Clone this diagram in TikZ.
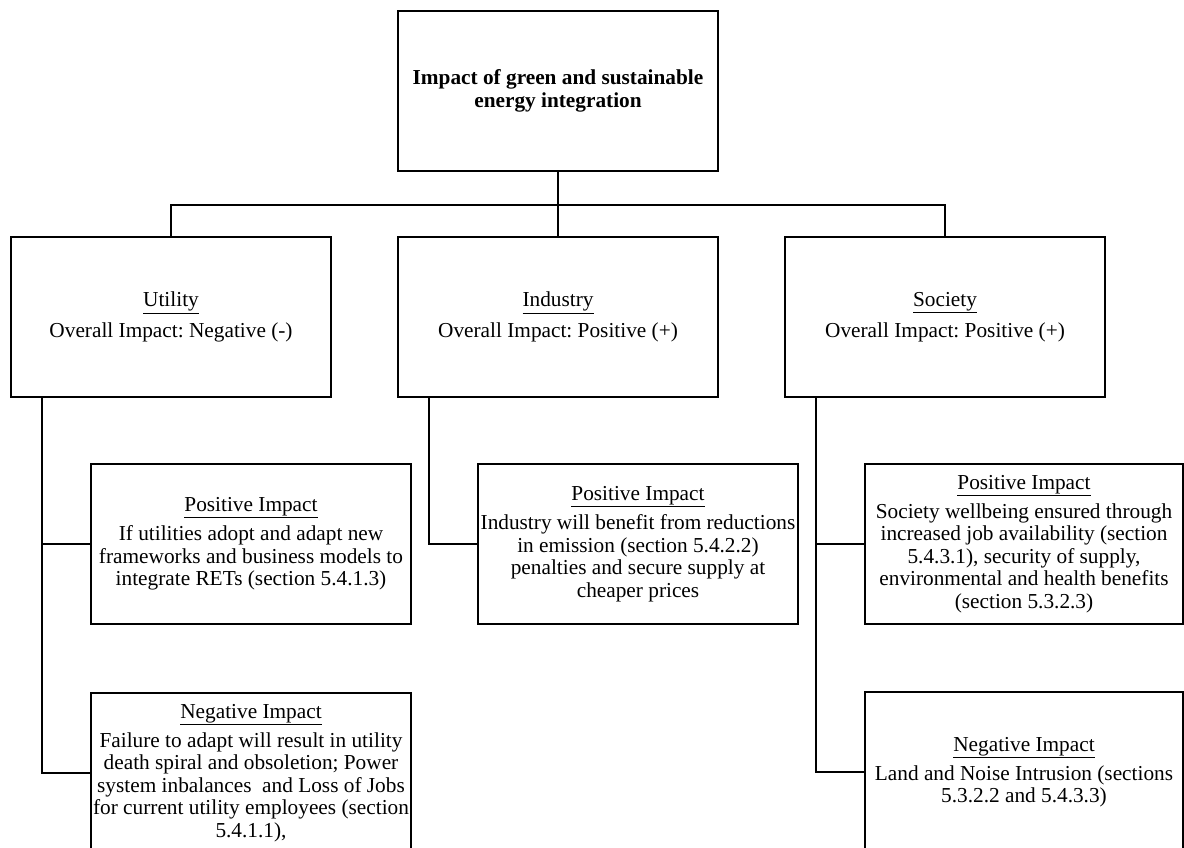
\documentclass[tikz,border=0pt]{standalone}
\usepackage{fontspec}
\setmainfont{Liberation Serif}
\frenchspacing
\tikzset{
  box/.style={draw, line width=2.2pt, rectangle, align=center, inner sep=0pt,
    minimum width=320pt, minimum height=160pt,
    font=\fontsize{21.3}{22.5}\selectfont},
  link/.style={line width=2.2pt}
}
\begin{document}
\begin{tikzpicture}[x=1pt,y=-1pt]
\useasboundingbox (0,0) rectangle (1184,847);
\clip (0,0) rectangle (1184,847);

% root
\node[box] (root) at (558,91)
  {\textbf{Impact of green and sustainable}\\\textbf{energy integration}};

% stakeholders
\node[box] (util) at (171,317) {\underline{Utility}\\[8pt]Overall Impact: Negative (-)};
\node[box] (ind)  at (558,317) {\underline{Industry}\\[8pt]Overall Impact: Positive (+)};
\node[box] (soc)  at (945,317) {\underline{Society}\\[8pt]Overall Impact: Positive (+)};

% impacts
\node[box] (upos) at (251,544) {\underline{Positive Impact}\\[6.5pt]
  If utilities adopt and adapt new\\frameworks and business models to\\integrate RETs (section 5.4.1.3)};
\node[box, minimum height=160pt] (uneg) at (251,773) {\underline{Negative Impact}\\[6.5pt]
  Failure to adapt will result in utility\\death spiral and obsoletion; Power\\system inbalances \ and Loss of Jobs\\for current utility employees (section\\5.4.1.1),};
\node[box] (ipos) at (638,544) {\underline{Positive Impact}\\[6.5pt]
  Industry will benefit from reductions\\in emission (section 5.4.2.2)\\penalties and secure supply at\\cheaper prices};
\node[box, minimum width=318pt] (spos) at (1024,544) {\underline{Positive Impact}\\[6.5pt]
  Society wellbeing ensured through\\increased job availability (section\\5.4.3.1), security of supply,\\environmental and health benefits\\(section 5.3.2.3)};
\node[box, minimum width=318pt, minimum height=160pt] (sneg) at (1024,772) {\underline{Negative Impact}\\[6.5pt]
  Land and Noise Intrusion (sections\\5.3.2.2 and 5.4.3.3)};

% tree bus
\draw[link] (root.south) -- ++(0,33) coordinate (bus);
\draw[link] (util.north) |- (bus) -| (soc.north);
\draw[link] (bus) -- (ind.north);

% branches to impacts
\draw[link] ([xshift=32pt]util.south west) |- (upos.west);
\draw[link] ([xshift=32pt]util.south west) |- (uneg.west);
\draw[link] ([xshift=32pt]ind.south west) |- (ipos.west);
\draw[link] ([xshift=32pt]soc.south west) |- (spos.west);
\draw[link] ([xshift=32pt]soc.south west) |- (sneg.west);
\end{tikzpicture}
\end{document}
